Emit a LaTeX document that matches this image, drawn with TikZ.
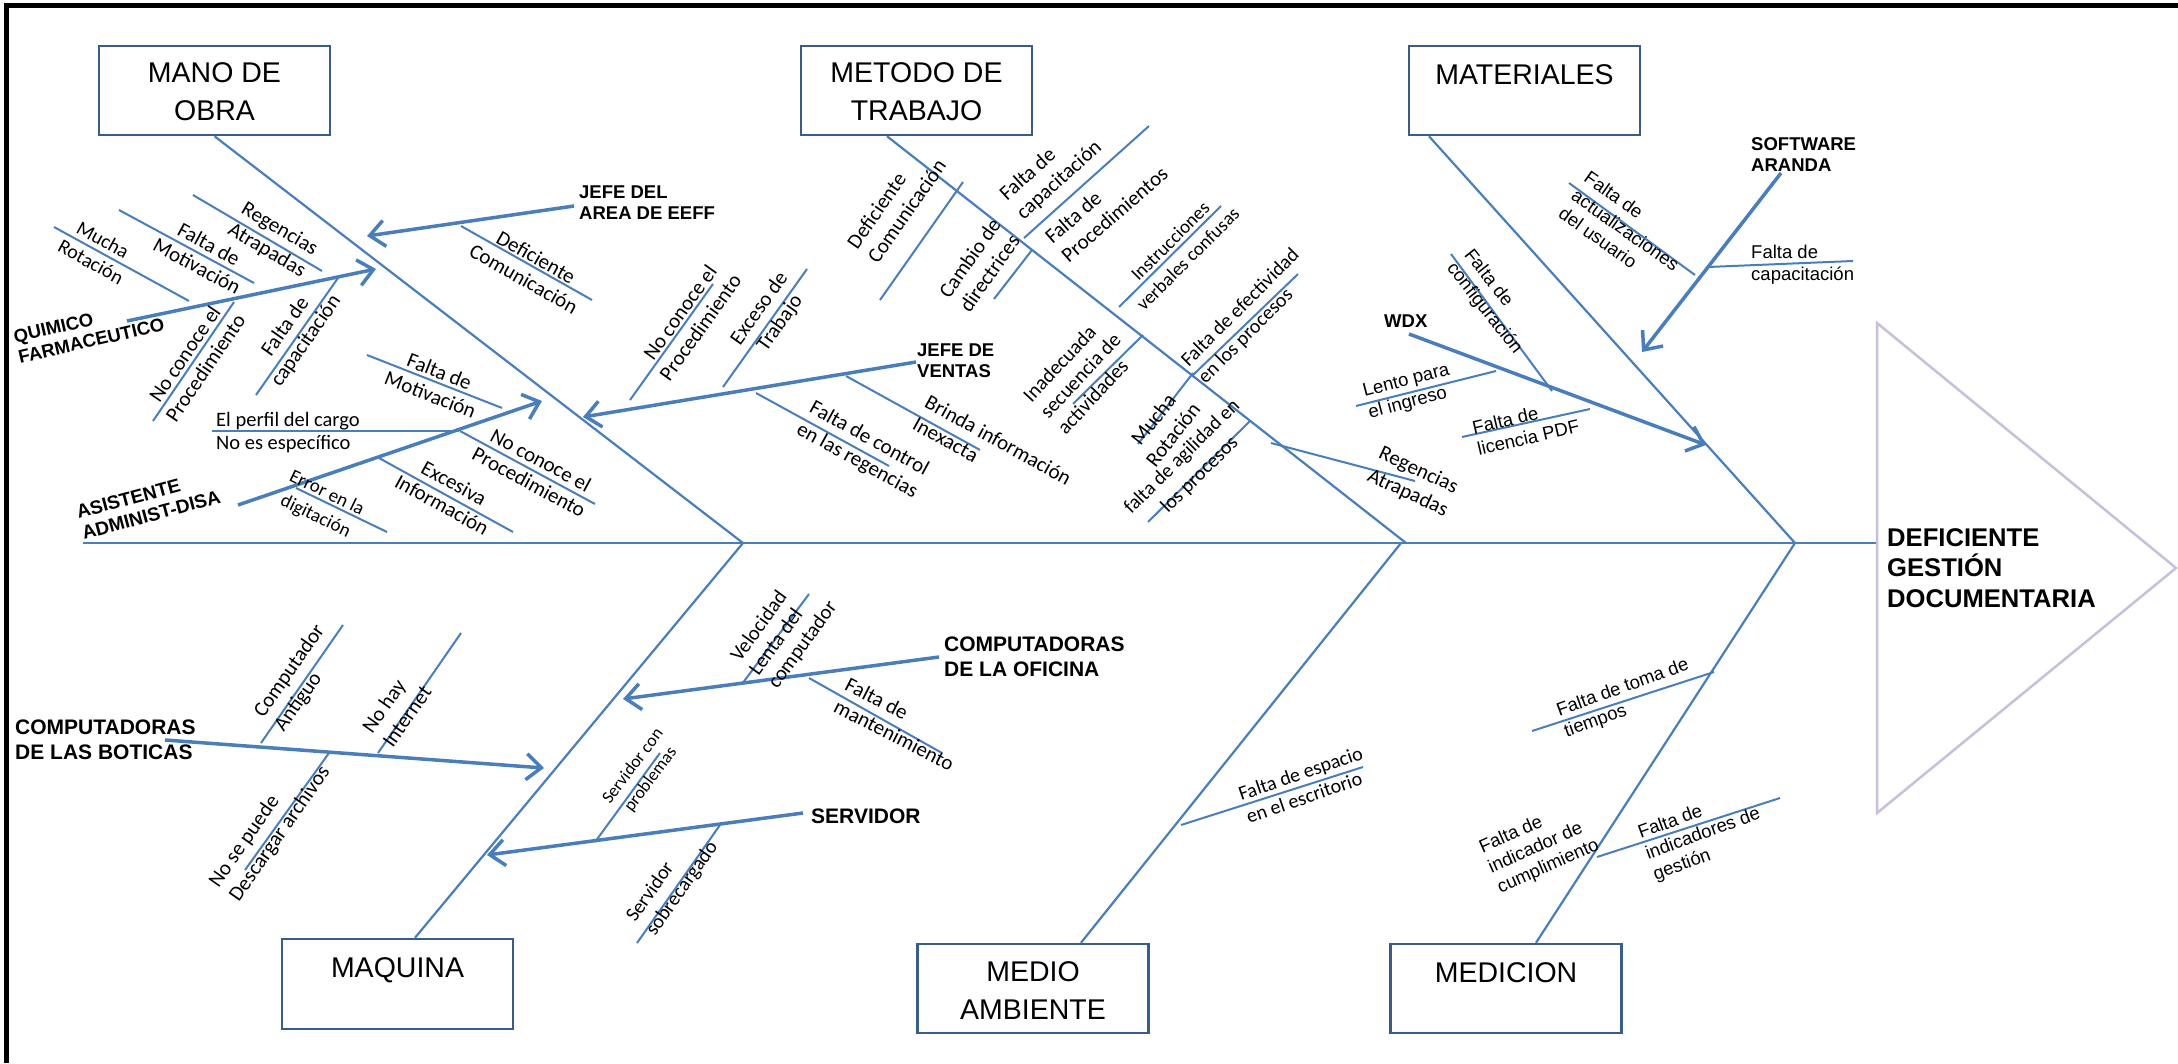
\documentclass[tikz,border=0pt]{standalone}
\usepackage{fontspec}
\setmainfont{Liberation Sans}
\newfontfamily\calf{Carlito}
\newfontfamily\arif{Liberation Sans}
\usetikzlibrary{arrows.meta,calc}
\definecolor{fbBlue}{HTML}{4A7EBB}
\definecolor{fbBox}{HTML}{385D8A}
\definecolor{fbHead}{HTML}{C8BFDC}
\begin{document}
\begin{tikzpicture}[x=1pt,y=-1pt,
  bone/.style={draw=fbBlue, line width=2.2pt},
  cause/.style={draw=fbBlue, line width=2pt},
  arr/.style={draw=fbBlue, line width=3.5pt, -{Straight Barb[length=15pt,width=26pt]}},
  catbox/.style={draw=fbBox, line width=2.5pt, fill=white, minimum width=231pt, minimum height=89pt, inner sep=0pt},
  cattxt/.style={font=\arif\fontsize{28.5}{38}\selectfont, align=center, inner sep=0pt},
  lc/.style={font=\calf\fontsize{21}{25}\selectfont, align=center, inner sep=0pt},
  lcl/.style={lc, align=left},
  la/.style={font=\arif\fontsize{18.5}{22}\selectfont, align=left, inner sep=0pt},
  bld/.style={font=\arif\bfseries\fontsize{18.5}{21}\selectfont, align=left, inner sep=0pt},
  bldb/.style={font=\arif\bfseries\fontsize{21}{25}\selectfont, align=left, inner sep=0pt},
  headtxt/.style={font=\arif\bfseries\fontsize{25.6}{30.5}\selectfont, align=left, inner sep=0pt}
]
\useasboundingbox (0,0) rectangle (2178,1063);
\fill[white] (0,0) rectangle (2178,1063);

% frame (top and left)
\coordinate (fr1) at (6,1063);
\coordinate (fr2) at (6,5);
\coordinate (fr3) at (2178,5);
\draw[line width=5pt] (fr1) -- (fr2) -- (fr3);

% spine and head
\coordinate (tail) at (83,543);
\coordinate (headL) at (1877,543);
\coordinate (jA) at (743,543);
\coordinate (jB) at (1406,543);
\coordinate (jBm) at (1401,543);
\coordinate (jC) at (1795,543);
\draw[bone] (tail) -- (headL);
\coordinate (h1) at (1877,323);
\coordinate (h2) at (2176,568);
\coordinate (h3) at (1877,813);
\draw[draw=fbHead, line width=2.5pt] (h1) -- (h2) -- (h3) -- cycle;
\node[headtxt, anchor=west] (effect) at (1887,568) {DEFICIENTE\\GESTIÓN\\DOCUMENTARIA};

% category boxes
\node[catbox] (mano) at (214.5,90.5) {};
\node[catbox] (metodo) at (916.5,90.5) {};
\node[catbox] (mat) at (1524.5,90.5) {};
\node[catbox, minimum height=90pt] (maq) at (397.5,984) {};
\node[catbox] (medio) at (1033,988.5) {};
\node[catbox] (medic) at (1506,988.5) {};
\node[cattxt] (manoT) at (214.5,92) {MANO DE\\OBRA};
\node[cattxt] (metT) at (916.5,92) {METODO DE\\TRABAJO};
\node[cattxt] (matT) at (1524.5,75) {MATERIALES};
\node[cattxt] (maqT) at (397.5,970) {MAQUINA};
\node[cattxt] (medT) at (1033,991) {MEDIO\\AMBIENTE};
\node[cattxt] (mdcT) at (1506,973) {MEDICION};

% main bones
\draw[bone] (mano.south) -- (jA);
\draw[bone] ([xshift=-29.5pt]metodo.south) -- (jB);
\draw[bone] ([xshift=-95.5pt]mat.south) -- (jC);
\draw[bone] ([xshift=17.5pt]maq.north) -- (jA);
\draw[bone] ([xshift=48pt]medio.north) -- (jBm);
\draw[bone] ([xshift=30pt]medic.north) -- (jC);

% ===== MANO DE OBRA =====
% Jefe del area
\node[bld, anchor=west] (jefeA) at (579,203) {JEFE DEL\\AREA DE EEFF};
\draw[arr] (574,206) coordinate (a1s) -- (367,236) coordinate (a1t);
\draw[cause] (461,226) coordinate (c6a) -- (592,300) coordinate (c6b);
\node[lc, rotate=-29.5] (l6) at (530,268) {Deficiente\\Comunicación};

% Quimico farmaceutico
\node[bld, anchor=south west, rotate=13] (quim) at (20,364) {QUIMICO\\FARMACEUTICO};
\draw[arr] (127,321) coordinate (a2s) -- (376,269) coordinate (a2t);
\draw[cause] (54,227) coordinate (c1a) -- (189,301) coordinate (c1b);
\draw[cause] (119,210) coordinate (c2a) -- (254,283) coordinate (c2b);
\draw[cause] (193,195) coordinate (c3a) -- (322,271) coordinate (c3b);
\draw[cause] (234,302) coordinate (c4a) -- (153,421) coordinate (c4b);
\draw[cause] (338,278) coordinate (c5a) -- (256,395) coordinate (c5b);
\node[lc, rotate=-28.7, font=\calf\fontsize{20}{25}\selectfont] (l1) at (97,251) {Mucha\\Rotación};
\node[lc, rotate=-28.4] (l2) at (203,255) {Falta de\\Motivación};
\node[lc, rotate=-30.5] (l3) at (273,240) {Regencias\\Atrapadas};
\node[lc, rotate=55.8] (l4) at (195,361) {No conoce el\\Procedimiento};
\node[lc, rotate=55] (l5) at (296,334) {Falta de\\capacitación};

% Asistente administ-disa
\node[bld, anchor=south west, rotate=15, font=\arif\bfseries\fontsize{19}{21.5}\selectfont] (asis) at (84,540) {ASISTENTE\\ADMINIST-DISA};
\draw[arr] (238,505) coordinate (a3s) -- (542,401) coordinate (a3t);
\draw[cause] (212,431) coordinate (c7a) -- (459,431) coordinate (c7b);
\draw[cause] (367,355) coordinate (c8a) -- (502,408) coordinate (c8b);
\draw[cause] (460,431) coordinate (c9a) -- (595,504) coordinate (c9b);
\draw[cause] (379,458) coordinate (c10a) -- (513,532) coordinate (c10b);
\draw[cause] (296,488) coordinate (c11a) -- (387,532) coordinate (c11b);
\node[lcl, anchor=west, font=\calf\fontsize{20.5}{23}\selectfont] (l7) at (216,433) {El perfil del cargo\\No es específico};
\node[lc, rotate=-21.4] (l8) at (435,383) {Falta de\\Motivación};
\node[lc, rotate=-28.4] (l9) at (535,471) {No conoce el\\Procedimiento};
\node[lc, rotate=-28.9] (l10) at (448,494) {Excesiva\\Información};
\node[lc, rotate=-25.8, font=\calf\fontsize{19}{26}\selectfont] (l11) at (321,505) {Error en la\\digitación};

% Jefe de ventas
\node[bld, anchor=west] (jefeV) at (917,361) {JEFE DE\\VENTAS};
\draw[arr] (916,362) coordinate (a4s) -- (583,417) coordinate (a4t);
\draw[cause] (630,400) coordinate (c12a) -- (713,284) coordinate (c12b);
\draw[cause] (723,387) coordinate (c13a) -- (807,269) coordinate (c13b);
\draw[cause] (756,393) coordinate (c14a) -- (889,466) coordinate (c14b);
\draw[cause] (846,376) coordinate (c15a) -- (980,450) coordinate (c15b);
\node[lc, rotate=54.4] (l12) at (690,320) {No conoce el\\Procedimiento};
\node[lc, rotate=54.6] (l13) at (770,316) {Exceso de\\Trabajo};
\node[lc, rotate=-28.8] (l14) at (863,450) {Falta de control\\en las regencias};
\node[lcl, rotate=-28.9, anchor=south west] (l15) at (911,429) {Brinda información\\Inexacta};

% ===== METODO DE TRABAJO =====
\draw[cause] (963,182) coordinate (c16a) -- (880,300) coordinate (c16b);
\draw[cause] (1149,126) coordinate (c17a) -- (1024,238) coordinate (c17b);
\draw[cause] (1032,250) coordinate (c19a) -- (994,299) coordinate (c19b);
\draw[cause] (1221,206) coordinate (c20a) -- (1119,307) coordinate (c20b);
\draw[cause] (1143,335) coordinate (c21a) -- (1073,404) coordinate (c21b);
\draw[cause] (1298,274) coordinate (c22a) -- (1193,375) coordinate (c22b);
\draw[cause] (1193,373) coordinate (c23a) -- (1138,444) coordinate (c23b);
\draw[cause] (1250,421) coordinate (c24a) -- (1148,522) coordinate (c24b);
\draw[cause] (1271,443) coordinate (c25a) -- (1415,481) coordinate (c25b);
\node[lcl, rotate=55, anchor=south west] (l16) at (878,265) {Deficiente\\Comunicación};
\node[lcl, rotate=42, anchor=south west] (l17) at (1026,223) {Falta de\\capacitación};
\node[lcl, rotate=41, anchor=south west] (l18) at (1069,264) {Falta de\\Procedimientos};
\node[lcl, rotate=55, anchor=south west] (l19) at (970,314) {Cambio de\\directrices};
\node[lc, rotate=45, font=\calf\fontsize{19}{25}\selectfont] (l20) at (1179,250) {Instrucciones\\verbales confusas};
\node[lcl, rotate=47, anchor=south west, font=\calf\fontsize{20.5}{23.5}\selectfont] (l21) at (1066,436) {Inadecuada\\secuencia de\\actividades};
\node[lcl, rotate=45, anchor=south west, font=\calf\fontsize{20}{24}\selectfont] (l22) at (1208,387) {Falta de efectividad\\en los procesos};
\node[lc, rotate=52] (l23) at (1163,427) {Mucha\\Rotación};
\node[lc, rotate=44.7, font=\calf\fontsize{20}{25}\selectfont] (l24) at (1191,466) {falta de agilidad en\\los procesos};
\node[lc, rotate=-25] (l25) at (1413,482) {Regencias\\Atrapadas};

% ===== MATERIALES =====
\node[bld, anchor=west] (soft) at (1751,155) {SOFTWARE\\ARANDA};
\draw[arr] (1781,173) coordinate (a5s) -- (1642,352) coordinate (a5t);
\draw[cause] (1569,183) coordinate (c26a) -- (1695,275) coordinate (c26b);
\draw[cause] (1708,267) coordinate (c27a) -- (1853,261) coordinate (c27b);
\node[la, rotate=-35.3, anchor=south west] (l26) at (1557,217) {Falta de\\actualizaciones\\del usuario};
\node[la, anchor=west] (l27) at (1751,265) {Falta de\\capacitación};

\node[bld, anchor=west] (wdx) at (1384,321) {WDX};
\draw[arr] (1409,334) coordinate (a6s) -- (1706,445) coordinate (a6t);
\draw[cause] (1451,254) coordinate (c28a) -- (1552,391) coordinate (c28b);
\draw[cause] (1356,406) coordinate (c29a) -- (1496,371) coordinate (c29b);
\draw[cause] (1462,437) coordinate (c30a) -- (1590,409) coordinate (c30b);
\node[la, rotate=-51.7, anchor=south west] (l28) at (1443,271) {Falta de\\configuración};
\node[la, rotate=14.5, anchor=south west] (l29) at (1371,422) {Lento para\\el ingreso};
\node[la, rotate=13, anchor=south west] (l30) at (1479,456) {Falta de\\licencia PDF};

% ===== MAQUINA =====
\node[bldb, anchor=west] (botT) at (15,740) {COMPUTADORAS\\DE LAS BOTICAS};
\draw[arr] (165,740) coordinate (a7s) -- (544,768) coordinate (a7t);
\draw[cause] (261,743) coordinate (c31a) -- (343,625) coordinate (c31b);
\draw[cause] (378,753) coordinate (c32a) -- (461,633) coordinate (c32b);
\draw[cause] (329,753) coordinate (c33a) -- (245,870) coordinate (c33b);
\node[lcl, rotate=55, anchor=south west] (l31) at (287,735) {Computador\\Antiguo};
\node[lcl, rotate=55, anchor=south west] (l32) at (393,749) {No hay\\Internet};
\node[lcl, rotate=55, anchor=south west] (l33) at (242,905) {No se puede\\Descargar archivos};

\node[bldb, anchor=west] (ofiT) at (944,657) {COMPUTADORAS\\DE LA OFICINA};
\draw[arr] (939,657) coordinate (a8s) -- (623,699) coordinate (a8t);
\draw[cause] (809,594) coordinate (c34a) -- (742,684) coordinate (c34b);
\draw[cause] (809,678) coordinate (c35a) -- (942,753) coordinate (c35b);
\node[lcl, rotate=54, anchor=south west, font=\calf\fontsize{20.5}{23}\selectfont] (l34) at (780,692) {Velocidad\\Lenta del\\computador};
\node[lcl, rotate=-27, anchor=south west] (l35) at (832,712) {Falta de\\mantenimiento};

\node[bldb, anchor=west] (servT) at (811,816) {SERVIDOR};
\draw[arr] (803,813) coordinate (a9s) -- (487,855) coordinate (a9t);
\draw[cause] (595,842) coordinate (c36a) -- (660,753) coordinate (c36b);
\draw[cause] (720,825) coordinate (c37a) -- (637,943) coordinate (c37b);
\node[lc, rotate=53, font=\calf\fontsize{17.5}{22}\selectfont] (l36) at (642,773) {Servidor con\\problemas};
\node[lcl, rotate=55, anchor=south west, font=\calf\fontsize{20}{24}\selectfont] (l37) at (658,939) {Servidor\\sobrecargado};

% ===== MEDIO AMBIENTE =====
\draw[cause] (1181,825) coordinate (c38a) -- (1363,767) coordinate (c38b);
\node[lcl, rotate=19, anchor=south west, font=\calf\fontsize{20}{24}\selectfont] (l38) at (1249,824) {Falta de espacio\\en el escritorio};

% ===== MEDICION =====
\draw[cause] (1532,731) coordinate (c39a) -- (1714,672) coordinate (c39b);
\draw[cause] (1597,857) coordinate (c41a) -- (1780,798) coordinate (c41b);
\node[la, rotate=20, anchor=south west] (l39) at (1568,741) {Falta de toma de\\tiempos};
\node[la, rotate=24, anchor=south west] (l40) at (1502,897) {Falta de\\indicador de\\cumplimiento};
\node[la, rotate=20, anchor=south west] (l41) at (1657,884) {Falta de\\indicadores de\\gestión};
\end{tikzpicture}
\end{document}
